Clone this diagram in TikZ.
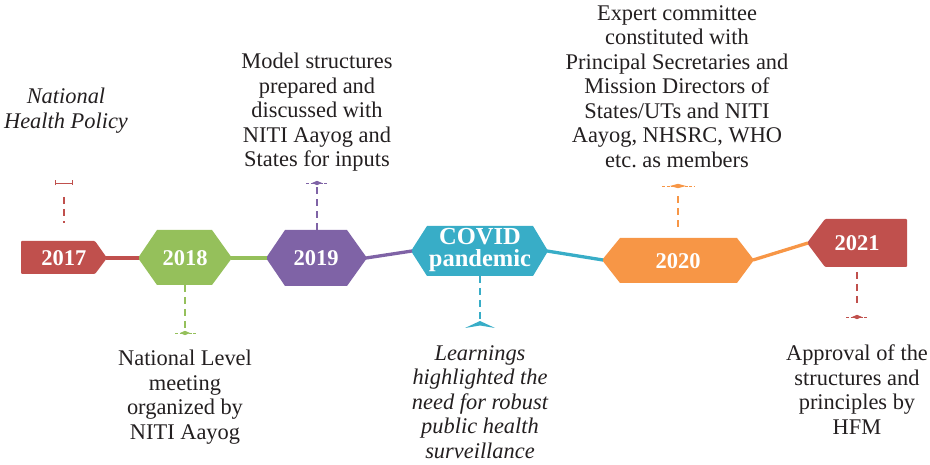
\documentclass[tikz,border=0pt]{standalone}
\usepackage{fontspec}
\setmainfont{Liberation Serif}
\usetikzlibrary{arrows.meta}
\definecolor{cred}{HTML}{C0504D}
\definecolor{cgreen}{HTML}{95C05B}
\definecolor{cpurple}{HTML}{7F63A6}
\definecolor{cteal}{HTML}{38ADC7}
\definecolor{corange}{HTML}{F79646}
\definecolor{ctext}{HTML}{231F20}
\begin{document}
\begin{tikzpicture}[x=1pt,y=-1pt,
  link/.style={line width=3.3pt},
  lead/.style={line width=1.4pt, dash pattern=on 7pt off 5pt},
  barline/.style={line width=0.9pt, dash pattern=on 3pt off 1.5pt},
  txt/.style={align=center, inner sep=0pt, anchor=north, text=ctext,
    font=\frenchspacing\fontsize{22.4}{24.5}\selectfont},
  itxt/.style={txt, font=\frenchspacing\itshape\fontsize{22.4}{24.5}\selectfont},
  yr/.style={text=white, inner sep=0pt, align=center,
    font=\bfseries\fontsize{22.5}{22}\selectfont}]
\useasboundingbox (0,0) rectangle (930,465);

% ---- shapes ----
\fill[cred, rounded corners=1pt] (21,241) -- (95,241) -- (107,258) -- (95,274) -- (21,274) -- cycle;
\fill[cgreen] (138,258) -- (157,230) -- (212,230) -- (232,258) -- (212,285) -- (157,285) -- cycle;
\fill[cpurple] (266,258) -- (285,230) -- (347,230) -- (367,258) -- (347,286) -- (285,286) -- cycle;
\fill[cteal] (411,251) -- (427,226) -- (533,226) -- (548,251) -- (533,276) -- (427,276) -- cycle;
\fill[corange] (602,260) -- (620,238) -- (737,238) -- (754,260) -- (737,283) -- (620,283) -- cycle;
\fill[cred, rounded corners=1pt] (807,243) -- (825,219) -- (907,219) -- (907,267) -- (825,267) -- cycle;

% ---- shape points ----
\coordinate (s17r) at (106,258);
\coordinate (s18l) at (139,258);
\coordinate (s18r) at (231,258);
\coordinate (s19l) at (267,258);
\coordinate (s19r) at (366,258);
\coordinate (scvl) at (412,251);
\coordinate (scvr) at (547,251);
\coordinate (s20l) at (603,260);
\coordinate (s20r) at (753,260);
\coordinate (s21l) at (808,243);

% ---- year labels ----
\node[yr] (y17) at (64,258) {2017};
\node[yr] (y18) at (185,258) {2018};
\node[yr] (y19) at (316,258) {2019};
\node[yr, font=\bfseries\fontsize{24.5}{22.5}\selectfont] (ycv) at (480,250) {COVID\\pandemic};
\node[yr] (y20) at (678,261) {2020};
\node[yr] (y21) at (857,243) {2021};

% ---- timeline links ----
\draw[link, cred] (s17r) -- (s18l);
\draw[link, cgreen] (s18r) -- (s19l);
\draw[link, cpurple] (s19r) -- (scvl);
\draw[link, cteal] (scvr) -- (s20l);
\draw[link, corange] (s20r) -- (s21l);

% ---- leader lines ----
% 2017
\coordinate (l17a) at (64,197);
\coordinate (l17b) at (64,223);
\coordinate (b17l) at (55,183);
\coordinate (b17r) at (73,183);
\draw[lead, cred] (l17a) -- (l17b);
\draw[cred, line width=0.9pt, {Bar[width=5pt]}-{Bar[width=5pt]}] (b17l) -- (b17r);
% 2018
\coordinate (l18a) at (185,285);
\coordinate (l18b) at (185,333);
\coordinate (b18l) at (175,333);
\coordinate (b18r) at (196,333);
\draw[lead, cgreen] (l18a) -- (l18b);
\draw[barline, cgreen] (b18l) -- (b18r);
\fill[cgreen] (l18b) ++(-5,0) -- ++(5,-2.2) -- ++(5,2.2) -- ++(-5,2.2) -- cycle;
% 2019
\coordinate (l19a) at (317,230);
\coordinate (l19b) at (317,183);
\coordinate (b19l) at (306,183);
\coordinate (b19r) at (328,183);
\draw[lead, cpurple] (l19a) -- (l19b);
\draw[barline, cpurple] (b19l) -- (b19r);
\fill[cpurple] (l19b) ++(-5,0) -- ++(5,-2.2) -- ++(5,2.2) -- ++(-5,2.2) -- cycle;
% COVID
\coordinate (lcva) at (480,276);
\coordinate (lcvb) at (480,322);
\draw[lead, cteal] (lcva) -- (lcvb);
\fill[cteal] (465,328) -- (480,321) -- (495,328) -- (480,325.5) -- cycle;
% 2020
\coordinate (l20a) at (678,227);
\coordinate (l20b) at (678,192);
\coordinate (b20l) at (662,186);
\coordinate (b20r) at (695,186);
\draw[lead, corange] (l20a) -- (l20b);
\draw[barline, corange] (b20l) -- (b20r);
\fill[corange] (678,186) ++(-8,0) -- ++(8,-2.2) -- ++(8,2.2) -- ++(-8,2.2) -- cycle;
% 2021
\coordinate (l21a) at (857,272);
\coordinate (l21b) at (857,304);
\coordinate (b21l) at (846,317);
\coordinate (b21r) at (868,317);
\draw[lead, cred] (l21a) -- (l21b);
\draw[barline, cred] (b21l) -- (b21r);
\fill[cred] (857,317) ++(-5,0) -- ++(5,-2.2) -- ++(5,2.2) -- ++(-5,2.2) -- cycle;

% ---- texts ----
\node[itxt] (t17) at (66,88) {National\\Health Policy};
\node[txt] (t18) at (185,350) {National Level\\meeting\\organized by\\NITI Aayog};
\node[txt] (t19) at (317,53) {Model structures\\prepared and\\discussed with\\NITI Aayog and\\States for inputs};
\node[itxt] (tcv) at (480,345) {Learnings\\highlighted the\\need for robust\\public health\\surveillance};
\node[txt] (t20) at (677,5) {Expert committee\\constituted with\\Principal Secretaries and\\Mission Directors of\\States/UTs and NITI\\Aayog, NHSRC, WHO\\etc.\ as members};
\node[txt] (t21) at (857,345) {Approval of the\\structures and\\principles by\\HFM};
\end{tikzpicture}
\end{document}
